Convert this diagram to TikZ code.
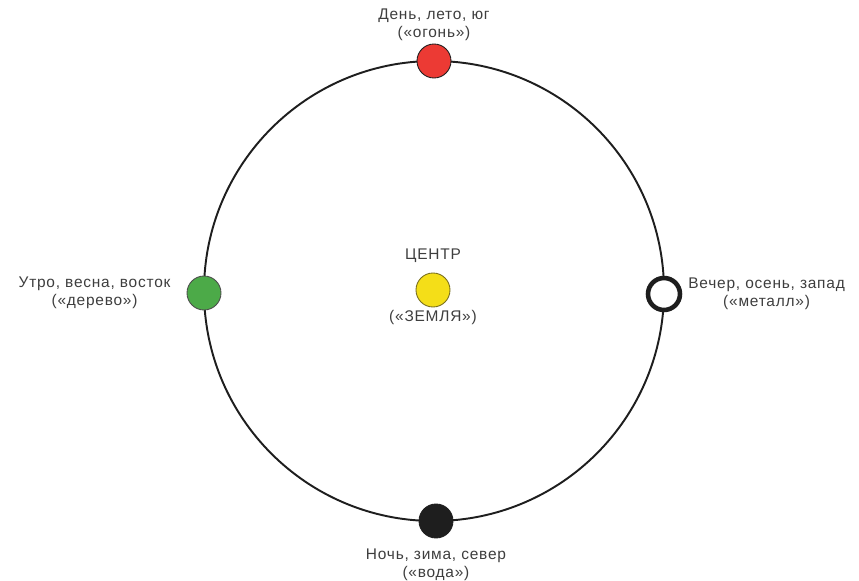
\documentclass[tikz,border=0pt]{standalone}
\usepackage{fontspec}
\setmainfont{Liberation Sans}
\newfontfamily\lblfont[LetterSpace=5]{Liberation Sans}
\usetikzlibrary{positioning}
\definecolor{fireRed}{RGB}{236,58,52}
\definecolor{woodGreen}{RGB}{76,170,72}
\definecolor{earthYellow}{RGB}{244,222,24}
\definecolor{earthRim}{RGB}{120,110,30}
\definecolor{nightBlack}{RGB}{30,30,30}
\definecolor{inkGray}{RGB}{62,62,62}
\tikzset{
  season/.style={
    shape = circle,
    minimum size = 0.68cm,
    inner sep = 0pt,
    draw = nightBlack,
    line width = 0.5pt
  },
  lbl/.style={
    font = \lblfont\fontsize{8.8}{10.2}\selectfont,
    text = inkGray,
    align = center,
    inner sep = 1pt
  },
}
\begin{document}
\begin{tikzpicture}[x=0.02cm,y=-0.02cm]
    \useasboundingbox (0,0) rectangle (859,581);
    \def\cx{434}
    \def\cy{291}
    \def\rr{230}
        \draw[line width=1.1pt,nightBlack] (\cx,\cy) circle [radius=\rr];
        % points of the year
        \node[season,fill=fireRed] (fire) at (\cx,\cy-\rr) {};
        \node[season,fill=woodGreen,draw=black!70] (wood) at (\cx-\rr,\cy+2) {};
        \node[season,fill=white,line width=2.6pt,minimum size=0.64cm] (metal) at (\cx+\rr,\cy+3) {};
        \node[season,fill=nightBlack] (water) at (\cx+2,\cy+\rr) {};
        \node[season,fill=earthYellow,draw=earthRim] (earth) at (\cx-1,\cy-1) {};
        % labels
        \node[lbl,above=0.02cm of fire] (fireLbl) {День, лето, юг\\(«огонь»)};
        \node[lbl,left=0.28cm of wood] (woodLbl) {Утро, весна, восток\\(«дерево»)};
        \node[lbl,right=0.08cm of metal] (metalLbl) {Вечер, осень, запад\\(«металл»)};
        \node[lbl,below=0.16cm of water] (waterLbl) {Ночь, зима, север\\(«вода»)};
        \node[lbl,above=0.16cm of earth] (centreLbl) {ЦЕНТР};
        \node[lbl,below=0.02cm of earth] (earthLbl) {(«ЗЕМЛЯ»)};
\end{tikzpicture}
\end{document}
